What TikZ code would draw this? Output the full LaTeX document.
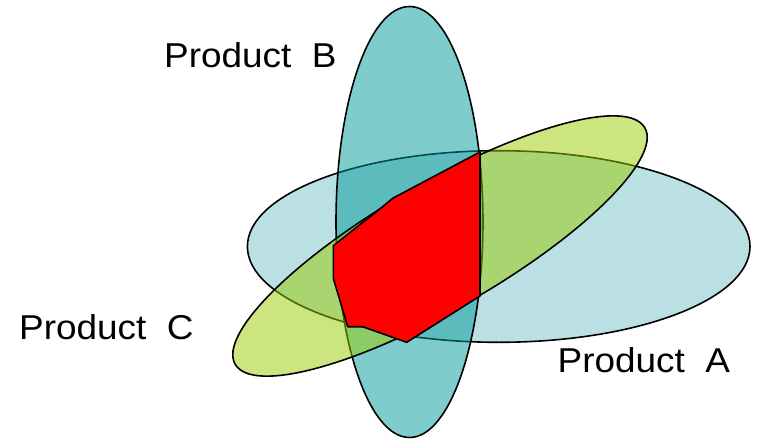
\documentclass[tikz,border=0pt]{standalone}
\usepackage{fontspec}
\setmainfont{Liberation Sans}
\newfontfamily\labelfont[FakeStretch=1.07]{Liberation Sans}
\definecolor{colA}{RGB}{186,224,227}
\definecolor{colB}{RGB}{0,153,153}
\definecolor{colC}{RGB}{153,204,0}
\tikzset{
  setshape/.style={draw=black, line width=1.6pt},
  label/.style={inner sep=0pt, anchor=base west, font=\labelfont\fontsize{34.5}{42}\selectfont}
}
\begin{document}
\begin{tikzpicture}[x=1pt, y=-1pt]
\useasboundingbox (0,0) rectangle (758,441);
% Product A
\draw[setshape, fill=colA] (498.7,246.5) ellipse [x radius=251.3pt, y radius=95.8pt];
% Product B
\draw[setshape, fill=colB, fill opacity=0.5] (409.5,222) ellipse [x radius=73.5pt, y radius=215.5pt];
% Product C
\draw[setshape, fill=colC, fill opacity=0.5, rotate around={30:(440,246)}] (440,246) ellipse [x radius=236.5pt, y radius=62.7pt];
% intersection
\draw[setshape, fill=red, line join=round] (480,152) -- (480,296) -- (406.7,342.3) -- (362.7,326.7) -- (347.7,326.7) -- (333.3,278.3) -- (333.3,245.7) -- (381,208) -- (392.7,198.3) -- cycle;
% labels
\node[label] (lb) at (164,67.7) {Product\ \ B};
\node[label] (lc) at (19,339.3) {Product\ \ C};
\node[label] (la) at (557.5,372.3) {Product\ \ A};
\end{tikzpicture}
\end{document}
